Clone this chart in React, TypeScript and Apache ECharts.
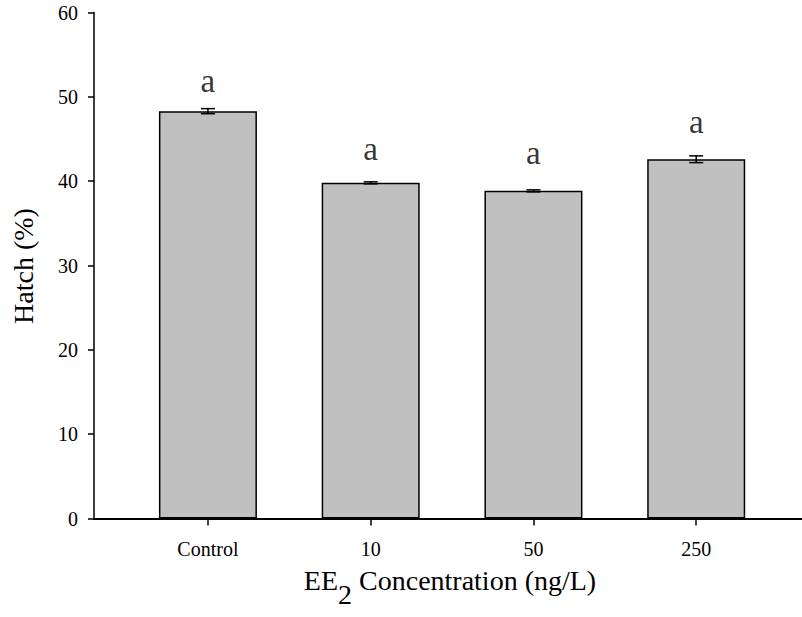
import React, { useEffect, useRef } from "react";
import * as echarts from "echarts";

const categories = ["Control", "10", "50", "250"];
const hatchMean = [48.3, 39.8, 38.85, 42.6];
const hatchErr = [0.3, 0.12, 0.12, 0.4];
const letters = ["a", "a", "a", "a"];
const letterY = [51.4, 43.3, 42.9, 46.6];
const yTicks = [0, 10, 20, 30, 40, 50, 60];

const FONT = "'Liberation Serif', 'Times New Roman', serif";

export default function App() {
  const ref = useRef<HTMLDivElement>(null);
  useEffect(() => {
    if (!ref.current) return;
    const chart = echarts.init(ref.current, null, { renderer: "svg" });
    const idx = categories.map((_, i) => i);
    chart.setOption({
      animation: false,
      backgroundColor: "#ffffff",
      grid: { left: 94, right: 0, top: 12.5, bottom: 98.5, containLabel: false },
      xAxis: {
        type: "value",
        min: -0.7,
        max: 3.65,
        splitLine: { show: false },
        axisLine: { show: true, onZero: false, lineStyle: { color: "#000", width: 2 } },
        axisTick: {
          show: true,
          customValues: idx,
          length: 7,
          lineStyle: { color: "#000", width: 1.5 },
        },
        axisLabel: {
          customValues: idx,
          formatter: (v: number) => categories[Math.round(v)] ?? "",
          fontFamily: FONT,
          fontSize: 20,
          color: "#000",
          margin: 20,
        },
      },
      yAxis: {
        type: "value",
        min: yTicks[0],
        max: yTicks[yTicks.length - 1],
        interval: 10,
        splitLine: { show: false },
        axisLine: { show: true, onZero: false, lineStyle: { color: "#000", width: 1.5 } },
        axisTick: { show: true, length: 6, lineStyle: { color: "#000", width: 1.5 } },
        axisLabel: { fontFamily: FONT, fontSize: 20, color: "#000", margin: 16 },
      },
      series: [
        {
          type: "bar",
          barWidth: 98,
          data: hatchMean.map((v, i) => [i, v]),
          itemStyle: { color: "#c0c0c0", borderColor: "#000", borderWidth: 1.5 },
        },
        {
          type: "custom",
          data: hatchMean.map((v, i) => [i, v - hatchErr[i], v + hatchErr[i]]),
          renderItem: (params: any, api: any) => {
            const x = api.value(0);
            const lo = api.coord([x, api.value(1)]);
            const hi = api.coord([x, api.value(2)]);
            const hw = 7;
            const st = { stroke: "#000", lineWidth: 1.5 };
            return {
              type: "group",
              children: [
                { type: "line", shape: { x1: lo[0], y1: lo[1], x2: hi[0], y2: hi[1] }, style: st },
                { type: "line", shape: { x1: lo[0] - hw, y1: lo[1], x2: lo[0] + hw, y2: lo[1] }, style: st },
                { type: "line", shape: { x1: hi[0] - hw, y1: hi[1], x2: hi[0] + hw, y2: hi[1] }, style: st },
              ],
            };
          },
          z: 5,
        },
        {
          type: "scatter",
          symbolSize: 0,
          data: letterY.map((v, i) => [i, v]),
          label: {
            show: true,
            position: "inside",
            offset: [0, -4],
            formatter: (p: any) => letters[p.dataIndex],
            fontFamily: FONT,
            fontSize: 33,
            color: "#000",
          },
          z: 6,
        },
      ],
      graphic: [
        {
          type: "text",
          x: 23,
          y: 266,
          rotation: Math.PI / 2,
          style: {
            text: "Hatch (%)",
            font: `28px ${FONT}`,
            fill: "#000",
            align: "center",
            verticalAlign: "middle",
          },
        },
        {
          type: "text",
          x: 450,
          y: 580,
          style: {
            text: "{n|EE}{s|2}{n| Concentration (ng/L)}",
            align: "center",
            verticalAlign: "middle",
            fill: "#000",
            rich: {
              n: { fontFamily: FONT, fontSize: 28, fill: "#000" },
              s: { fontFamily: FONT, fontSize: 28, fill: "#000", padding: [28, 0, 0, 0] },
            },
          },
        },
      ],
    });
    return () => chart.dispose();
  }, []);
  return (
    <div
      ref={ref}
      style={{ position: "fixed", left: 0, top: 0, width: 802, height: 617 }}
    />
  );
}
